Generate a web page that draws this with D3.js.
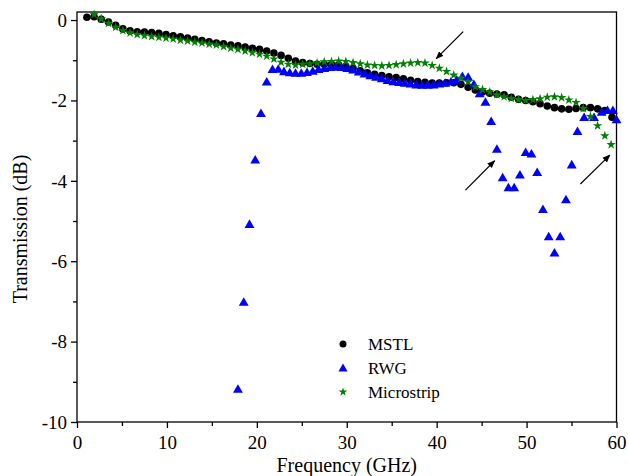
<!DOCTYPE html>
<html>
<head>
<meta charset="utf-8">
<script src="https://cdn.jsdelivr.net/npm/d3@7"></script>
<style>
  html, body { margin: 0; padding: 0; background: #fff; }
  svg { display: block; }
</style>
</head>
<body>
<svg id="chart" width="628" height="476" font-family="Liberation Serif"></svg>
<script>
// ---------------- DATA ----------------
const xTicks = [0, 10, 20, 30, 40, 50, 60];
const yTicks = [0, -2, -4, -6, -8, -10];
const seriesNames = ["MSTL", "RWG", "Microstrip"];

const mstlFreq = [1.1, 1.9, 2.7, 3.5, 4.3, 5.1, 5.9, 6.7, 7.5, 8.3, 9.1, 9.9, 10.7, 11.5, 12.3, 13.1, 13.9, 14.7, 15.5, 16.3,
  17.1, 17.9, 18.7, 19.5, 20.3, 21.1, 21.9, 22.7, 23.5, 24.3, 25.1, 25.9, 26.7, 27.5, 28.3, 29.1, 29.9, 30.7, 31.5, 32.3,
  33.1, 33.9, 34.7, 35.5, 36.3, 37.1, 37.9, 38.7, 39.5, 40.3, 41.1, 41.9, 42.7, 43.5, 44.3, 45.1, 45.9, 46.7, 47.5, 48.3,
  49.1, 49.9, 50.7, 51.5, 52.3, 53.1, 53.9, 54.7, 55.5, 56.3, 57.1, 57.9, 58.7, 59.5];
const mstlDB = [0.07, 0.08, 0.02, -0.05, -0.13, -0.22, -0.27, -0.29, -0.30, -0.31, -0.33, -0.36, -0.39, -0.42, -0.45, -0.48, -0.51, -0.54, -0.57, -0.59,
  -0.62, -0.64, -0.67, -0.70, -0.73, -0.77, -0.82, -0.88, -0.95, -1.02, -1.06, -1.08, -1.10, -1.10, -1.10, -1.12, -1.15, -1.20, -1.26, -1.31,
  -1.35, -1.38, -1.41, -1.43, -1.46, -1.50, -1.53, -1.55, -1.57, -1.57, -1.56, -1.56, -1.60, -1.67, -1.74, -1.79, -1.82, -1.84, -1.86, -1.92,
  -1.97, -2.00, -2.03, -2.08, -2.14, -2.18, -2.21, -2.22, -2.20, -2.18, -2.18, -2.21, -2.25, -2.42];

const rwgFreq = [17.9, 18.54, 19.18, 19.82, 20.46, 21.1, 21.74, 22.38, 23.02, 23.66, 24.3, 24.94, 25.58, 26.22, 26.86, 27.5, 28.14, 28.78, 29.42, 30.06,
  30.7, 31.34, 31.98, 32.62, 33.26, 33.9, 34.54, 35.18, 35.82, 36.46, 37.1, 37.74, 38.38, 39.02, 39.66, 40.3, 40.94, 41.58, 42.22, 42.86,
  43.5, 44.14, 44.78, 45.42, 46.06, 46.7, 47.34, 47.98, 48.62, 49.26, 49.9, 50.54, 51.18, 51.82, 52.46, 53.1, 53.74, 54.38, 55.02, 55.66,
  56.4, 57.5, 58.35, 59.0, 59.6, 60.0];
const rwgDB = [-9.18, -7.02, -5.08, -3.48, -2.32, -1.54, -1.23, -1.22, -1.28, -1.31, -1.32, -1.32, -1.30, -1.27, -1.23, -1.20, -1.18, -1.17, -1.18, -1.20,
  -1.24, -1.29, -1.34, -1.38, -1.42, -1.46, -1.50, -1.53, -1.55, -1.57, -1.59, -1.61, -1.62, -1.62, -1.61, -1.59, -1.57, -1.54, -1.49, -1.40,
  -1.42, -1.60, -1.83, -2.04, -2.52, -3.21, -3.92, -4.17, -4.17, -3.85, -3.29, -3.33, -3.79, -4.71, -5.39, -5.79, -5.39, -4.47, -3.60, -2.77,
  -2.42, -2.42, -2.29, -2.25, -2.25, -2.48];

const microFreq = [1.9, 2.7, 3.5, 4.3, 5.1, 5.9, 6.7, 7.5, 8.3, 9.1, 9.9, 10.7, 11.5, 12.3, 13.1, 13.9, 14.7, 15.5, 16.3, 17.1,
  17.9, 18.7, 19.5, 20.3, 21.1, 21.9, 22.7, 23.5, 24.3, 25.1, 25.9, 26.7, 27.5, 28.3, 29.1, 29.9, 30.7, 31.5, 32.3, 33.1,
  33.9, 34.7, 35.5, 36.3, 37.1, 37.9, 38.7, 39.5, 40.3, 41.1, 41.9, 42.7, 43.5, 44.3, 45.1, 45.9, 46.7, 47.5, 48.3, 49.1,
  49.9, 50.7, 51.5, 52.3, 53.1, 53.9, 54.7, 55.5, 56.3, 57.1, 57.9, 58.7, 59.4];
const microDB = [0.14, 0.03, -0.08, -0.18, -0.26, -0.32, -0.36, -0.39, -0.41, -0.43, -0.45, -0.47, -0.50, -0.52, -0.55, -0.57, -0.60, -0.62, -0.66, -0.70,
  -0.73, -0.77, -0.81, -0.85, -0.90, -0.97, -1.05, -1.10, -1.12, -1.10, -1.09, -1.07, -1.04, -1.03, -1.02, -1.03, -1.06, -1.09, -1.12, -1.13,
  -1.14, -1.13, -1.11, -1.09, -1.07, -1.06, -1.07, -1.13, -1.20, -1.28, -1.37, -1.45, -1.54, -1.66, -1.73, -1.79, -1.86, -1.91, -1.95, -1.98,
  -2.00, -1.98, -1.96, -1.92, -1.91, -1.93, -1.99, -2.05, -2.20, -2.40, -2.63, -2.88, -3.10];

// annotation arrows (data units): [fromX, fromY, toX, toY]
const arrowsData = [
  [42.95, -0.29, 39.95, -0.96],
  [43.2, -4.23, 46.45, -3.50],
  [55.98, -4.08, 59.26, -3.36]
];

// ---------------- CHART ----------------
const FONT = "Liberation Serif";
const svg = d3.select("#chart");
const mLeft = 77, mRight = 616.5, mTop = 12, mBottom = 422;
const x = d3.scaleLinear().domain([0, 60]).range([mLeft, mRight]);
const y = d3.scaleLinear().domain([-10, 0.2]).range([mBottom, mTop]);

const colors = { MSTL: "#000000", RWG: "#0000ff", Microstrip: "#008000" };

// frame
svg.append("rect")
  .attr("x", mLeft).attr("y", mTop)
  .attr("width", mRight - mLeft).attr("height", mBottom - mTop)
  .attr("fill", "none").attr("stroke", "#000").attr("stroke-width", 1.3);

// axes
const fontTick = 19;
const xAxis = d3.axisBottom(x).tickValues(xTicks).tickSize(6).tickFormat(d3.format("d"));
const gx = svg.append("g").attr("transform", `translate(0,${mBottom})`).call(xAxis);
const xMinor = d3.axisBottom(x).tickValues([5, 15, 25, 35, 45, 55]).tickSize(4).tickFormat("");
const gxm = svg.append("g").attr("transform", `translate(0,${mBottom})`).call(xMinor);

const yAxis = d3.axisLeft(y).tickValues(yTicks).tickSize(6).tickFormat(d3.format("d"));
const gy = svg.append("g").attr("transform", `translate(${mLeft},0)`).call(yAxis);
const yMinor = d3.axisLeft(y).tickValues([-1, -3, -5, -7, -9]).tickSize(4).tickFormat("");
const gym = svg.append("g").attr("transform", `translate(${mLeft},0)`).call(yMinor);

[gx, gxm, gy, gym].forEach(g => {
  g.attr("font-family", FONT).attr("font-size", fontTick);
  g.select(".domain").remove();
  g.selectAll("line").attr("stroke", "#000").attr("stroke-width", 1.3);
  g.selectAll("text").attr("font-family", FONT).attr("font-size", fontTick).attr("fill", "#000");
});
gx.selectAll("text").attr("dy", "0.95em");
gy.selectAll("text").attr("dx", "-0.05em").attr("dy", "0.33em");
gy.selectAll("text").text(d => d === 0 ? "0" : "-" + Math.abs(d));

// axis labels
svg.append("text").attr("x", (mLeft + mRight) / 2).attr("y", 472)
  .attr("text-anchor", "middle").attr("font-size", 20).attr("font-family", FONT).text("Frequency (GHz)");
svg.append("text").attr("transform", `translate(27,${(mTop + mBottom) / 2 + 12}) rotate(-90)`)
  .attr("text-anchor", "middle").attr("font-size", 20).attr("font-family", FONT).text("Transmission (dB)");

// series
const plot = svg.append("g");
plot.append("g").selectAll("circle")
  .data(d3.zip(mstlFreq, mstlDB)).join("circle")
  .attr("cx", d => x(d[0])).attr("cy", d => y(d[1])).attr("r", 3.8)
  .attr("fill", colors.MSTL);

const tri = d3.symbol().type(d3.symbolTriangle).size(42);
plot.append("g").selectAll("path")
  .data(d3.zip(rwgFreq, rwgDB)).join("path")
  .attr("d", tri)
  .attr("transform", d => `translate(${x(d[0])},${y(d[1]) + 0.8})`)
  .attr("fill", colors.RWG);

const star = d3.symbol().type(d3.symbolStar).size(28);
plot.append("g").selectAll("path")
  .data(d3.zip(microFreq, microDB)).join("path")
  .attr("d", star)
  .attr("transform", d => `translate(${x(d[0])},${y(d[1])})`)
  .attr("fill", colors.Microstrip);

// arrows
svg.append("defs").append("marker")
  .attr("id", "ah").attr("viewBox", "0 0 10 10").attr("refX", 9).attr("refY", 5)
  .attr("markerWidth", 8).attr("markerHeight", 8).attr("markerUnits", "userSpaceOnUse")
  .attr("orient", "auto")
  .append("path").attr("d", "M0,1 L10,5 L0,9 Z").attr("fill", "#000");
svg.append("g").selectAll("line").data(arrowsData).join("line")
  .attr("x1", d => x(d[0])).attr("y1", d => y(d[1]))
  .attr("x2", d => x(d[2])).attr("y2", d => y(d[3]))
  .attr("stroke", "#000").attr("stroke-width", 1.2)
  .attr("marker-end", "url(#ah)");

// legend
const legX = 343, legTextX = 368, legY = [344, 368, 392];
const leg = svg.append("g");
leg.append("circle").attr("cx", legX).attr("cy", legY[0]).attr("r", 3.5).attr("fill", colors.MSTL);
leg.append("path").attr("d", d3.symbol().type(d3.symbolTriangle).size(36))
  .attr("transform", `translate(${legX},${legY[1] + 0.8})`).attr("fill", colors.RWG);
leg.append("path").attr("d", d3.symbol().type(d3.symbolStar).size(24))
  .attr("transform", `translate(${legX},${legY[2]})`).attr("fill", colors.Microstrip);
seriesNames.forEach((n, i) => {
  leg.append("text").attr("x", legTextX).attr("y", legY[i]).attr("dy", "0.35em")
    .attr("font-size", 17).attr("font-family", FONT).text(n);
});
</script>
</body>
</html>
